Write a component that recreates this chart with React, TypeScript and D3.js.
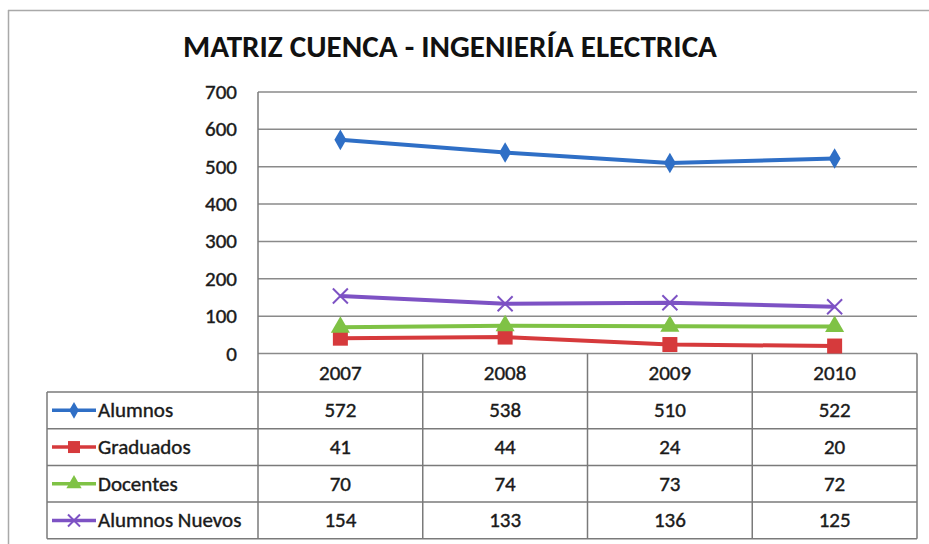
import React from 'react';
import { scaleLinear, scaleBand, line, symbol, symbolDiamond, symbolSquare, symbolTriangle } from 'd3';

const years = ['2007', '2008', '2009', '2010'];
const alumnos = [572, 538, 510, 522];
const graduados = [41, 44, 24, 20];
const docentes = [70, 74, 73, 72];
const alumnosNuevos = [154, 133, 136, 125];
const yTicks = [0, 100, 200, 300, 400, 500, 600, 700];

const series = [
  { name: 'Alumnos', values: alumnos, color: '#2f6fc6', marker: 'diamond' },
  { name: 'Graduados', values: graduados, color: '#d63a3c', marker: 'square' },
  { name: 'Docentes', values: docentes, color: '#7fc245', marker: 'triangle' },
  { name: 'Alumnos Nuevos', values: alumnosNuevos, color: '#7d52c4', marker: 'x' },
];

const W = 929;
const H = 544;
const plotLeft = 258;
const plotRight = 917;
const plotTop = 92;
const plotBottom = 353.5;
const headerH = 38.5;
const legendLeft = 47;
const rowH = 36.7;
const font = 'Carlito, Calibri, "Liberation Sans Narrow", "DejaVu Sans Condensed", sans-serif';

const Marker = ({ type, x, y, color, size }: { type: string; x: number; y: number; color: string; size: number }) => {
  if (type === 'x') {
    const r = size * 0.5;
    return (
      <g stroke={color} strokeWidth={2}>
        <line x1={x - r} y1={y - r} x2={x + r} y2={y + r} />
        <line x1={x - r} y1={y + r} x2={x + r} y2={y - r} />
      </g>
    );
  }
  const sym = type === 'diamond' ? symbolDiamond : type === 'square' ? symbolSquare : symbolTriangle;
  const area = type === 'diamond' ? size * size * 0.55 : type === 'square' ? size * size : size * size * 0.7;
  const d = symbol(sym, area)() ?? '';
  return <path d={d} transform={`translate(${x},${y})`} fill={color} />;
};

export default function App() {
  const x = scaleBand<string>().domain(years).range([plotLeft, plotRight]);
  const y = scaleLinear().domain([0, 700]).range([plotBottom, plotTop]);
  const cx = (yr: string) => (x(yr) ?? 0) + x.bandwidth() / 2;
  const path = line<number>()
    .x((_v, i) => cx(years[i]))
    .y(v => y(v));

  const tableTop = plotBottom;
  const rowY = (i: number) => tableTop + headerH + rowH * i;
  const tableBottom = rowY(series.length);
  const border = '#7a7a7a';

  return (
    <>
      <style>{'body{margin:0}'}</style>
      <svg width={W} height={H} style={{ display: 'block', background: '#fff' }}>
        <rect x={0} y={0} width={W} height={H} fill="#fff" />
        <line x1={8} y1={10.5} x2={W} y2={10.5} stroke="#a9a9a9" strokeWidth={1.5} />
        <line x1={8.5} y1={10} x2={8.5} y2={H} stroke="#a9a9a9" strokeWidth={1.5} />

        <text x={450} y={57} textAnchor="middle" fontFamily={font} fontWeight="bold" fontSize={30}
          textLength={534} lengthAdjust="spacingAndGlyphs" fill="#111">
          MATRIZ CUENCA - INGENIERÍA ELECTRICA
        </text>

        {yTicks.map(t => (
          <g key={t}>
            <line x1={plotLeft} x2={plotRight} y1={y(t)} y2={y(t)} stroke="#8a8a8a" strokeWidth={1.5} />
            <text x={237} y={y(t) + 7} textAnchor="end" fontFamily={font} fontSize={21} fill="#1a1a1a"
              stroke="#1a1a1a" strokeWidth={0.4}>{t}</text>
          </g>
        ))}
        <line x1={plotLeft} x2={plotLeft} y1={plotTop} y2={tableBottom} stroke={border} strokeWidth={1.5} />

        {series.map(s => (
          <g key={s.name}>
            <path d={path(s.values) ?? ''} fill="none" stroke={s.color} strokeWidth={4} />
            {s.values.map((v, i) => (
              <Marker key={i} type={s.marker} x={cx(years[i])} y={y(v)} color={s.color} size={15} />
            ))}
          </g>
        ))}

        {/* data table */}
        {years.map(yr => (
          <line key={yr} x1={(x(yr) ?? 0) + x.bandwidth()} x2={(x(yr) ?? 0) + x.bandwidth()}
            y1={tableTop} y2={tableBottom} stroke={border} strokeWidth={1.5} />
        ))}
        <line x1={legendLeft} x2={legendLeft} y1={rowY(0)} y2={tableBottom} stroke={border} strokeWidth={1.5} />
        {series.map((_s, i) => (
          <line key={i} x1={legendLeft} x2={plotRight} y1={rowY(i)} y2={rowY(i)} stroke={border} strokeWidth={1.5} />
        ))}
        <line x1={legendLeft} x2={plotRight} y1={tableBottom} y2={tableBottom} stroke={border} strokeWidth={1.5} />
        <g fontFamily={font} fontSize={21} fill="#1a1a1a" stroke="#1a1a1a" strokeWidth={0.4}>
          {years.map(yr => (
            <text key={yr} x={cx(yr)} y={tableTop + headerH / 2 + 7} textAnchor="middle">{yr}</text>
          ))}
          {series.map((s, i) => (
            <g key={s.name}>
              <text x={98} y={rowY(i) + rowH / 2 + 7}>{s.name}</text>
              {s.values.map((v, j) => (
                <text key={j} x={cx(years[j])} y={rowY(i) + rowH / 2 + 7} textAnchor="middle">{v}</text>
              ))}
            </g>
          ))}
        </g>
        {series.map((s, i) => (
          <g key={s.name}>
            <line x1={52} x2={96} y1={rowY(i) + rowH / 2} y2={rowY(i) + rowH / 2} stroke={s.color} strokeWidth={3.5} />
            <Marker type={s.marker} x={74} y={rowY(i) + rowH / 2} color={s.color} size={12} />
          </g>
        ))}
      </svg>
    </>
  );
}
